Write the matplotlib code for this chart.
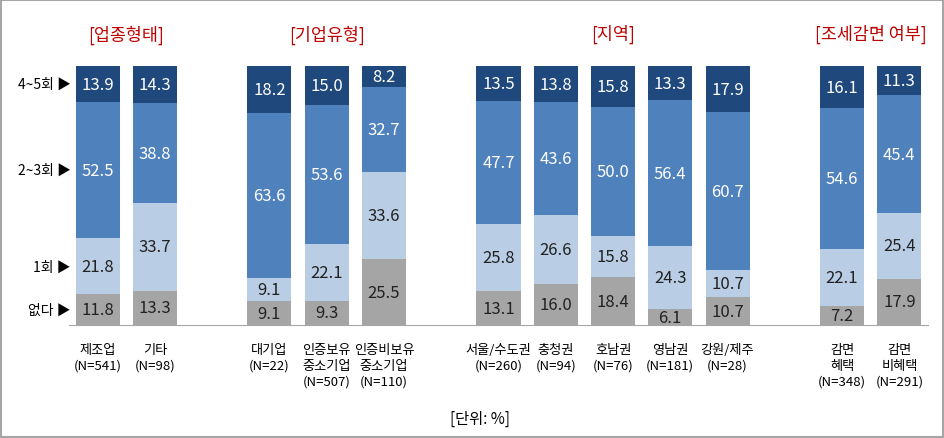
import matplotlib.pyplot as plt
from matplotlib.patches import Rectangle
import numpy as np

plt.rcParams['font.family'] = ['Noto Sans CJK KR', 'DejaVu Sans']

categories = ['제조업\n(N=541)', '기타\n(N=98)',
              '대기업\n(N=22)', '인증보유\n중소기업\n(N=507)', '인증비보유\n중소기업\n(N=110)',
              '서울/수도권\n(N=260)', '충청권\n(N=94)', '호남권\n(N=76)', '영남권\n(N=181)', '강원/제주\n(N=28)',
              '감면\n혜택\n(N=348)', '감면\n비혜택\n(N=291)']
group_titles = ['[업종형태]', '[기업유형]', '[지역]', '[조세감면 여부]']
group_sizes = [2, 3, 5, 2]
series_names = ['없다', '1회', '2~3회', '4~5회']

none_vals = [11.8, 13.3, 9.1, 9.3, 25.5, 13.1, 16.0, 18.4, 6.1, 10.7, 7.2, 17.9]
once_vals = [21.8, 33.7, 9.1, 22.1, 33.6, 25.8, 26.6, 15.8, 24.3, 10.7, 22.1, 25.4]
two3_vals = [52.5, 38.8, 63.6, 53.6, 32.7, 47.7, 43.6, 50.0, 56.4, 60.7, 54.6, 45.4]
four5_vals = [13.9, 14.3, 18.2, 15.0, 8.2, 13.5, 13.8, 15.8, 13.3, 17.9, 16.1, 11.3]

colors = ['#A5A5A5', '#B9CDE5', '#4F81BD', '#1F497D']
text_colors = ['#222222', '#222222', 'white', 'white']

# bar positions: one empty slot between groups
x = []
pos = 0
for n in group_sizes:
    x.extend(range(pos, pos + n))
    pos += n + 1
x = np.array(x)

fig = plt.figure(figsize=(9.45, 4.39), dpi=100)
ax = fig.add_axes([0.073, 0.2574, 0.909, 0.5896])

bottom = np.zeros(len(x))
series = [none_vals, once_vals, two3_vals, four5_vals]
for vals, c, tc in zip(series, colors, text_colors):
    vals = np.array(vals)
    ax.bar(x, vals, width=0.77, bottom=bottom, color=c, edgecolor='none')
    for xi, b, v in zip(x, bottom, vals):
        ax.text(xi, b + v / 2, f'{v:.1f}', ha='center', va='center',
                fontsize=12, color=tc)
    bottom += vals

# row labels on the left, next to the first bar
b = 0
for name, vals in zip(series_names, series):
    ax.text(-0.47, b + vals[0] / 2, name + ' ▶', ha='right', va='center', fontsize=10)
    b += vals[0]

# group titles
start = 0
for title, n in zip(group_titles, group_sizes):
    cx = x[start:start + n].mean()
    ax.text(cx, 112.5, title, ha='center', va='center', fontsize=12.5, color='#C00000')
    start += n

# category labels
for xi, cat in zip(x, categories):
    ax.text(xi, -6.8, cat, ha='center', va='top', fontsize=9.5, linespacing=1.3)

ax.set_xlim(-0.5, 14.5)
ax.set_ylim(0, 100)
ax.set_xticks([])
ax.set_yticks([])
for s in ['top', 'left', 'right']:
    ax.spines[s].set_visible(False)
ax.spines['bottom'].set_color('#A6A6A6')

fig.text(0.508, 0.046, '[단위: %]', ha='center', va='center', fontsize=11)

fig.patches.append(Rectangle((0.001, 0.002), 0.997, 0.995, transform=fig.transFigure,
                             fill=False, edgecolor='#A6A6A6', linewidth=1.5))

plt.savefig('out.png', dpi=100)
